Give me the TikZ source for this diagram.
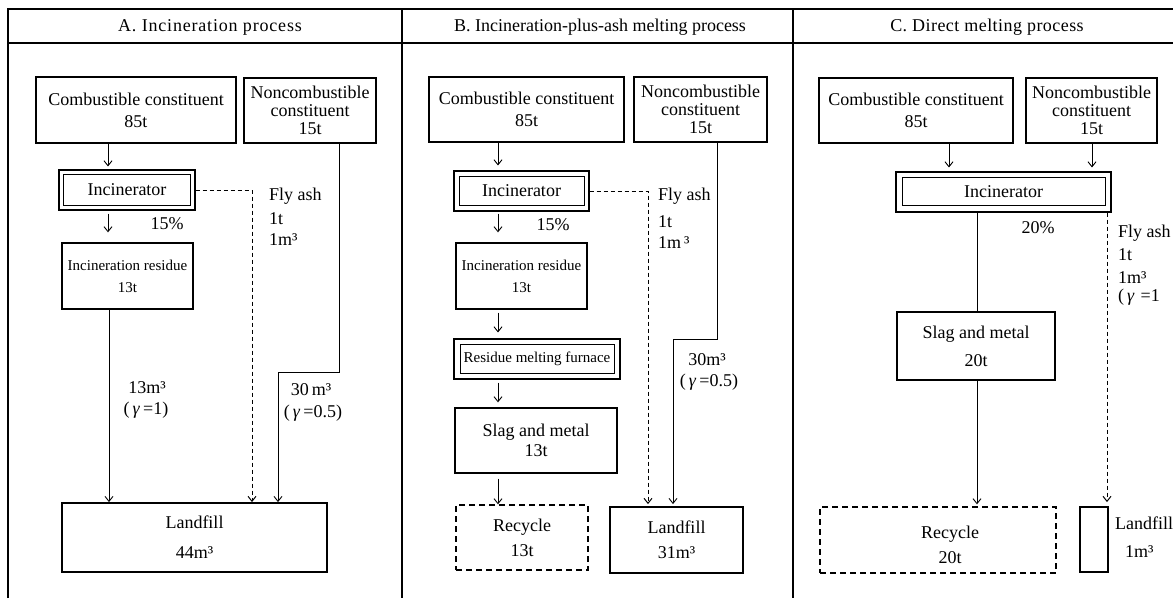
\documentclass[tikz,border=0pt]{standalone}
\usepackage{fontspec}
\setmainfont{Liberation Serif}
\usetikzlibrary{arrows.meta}
\newcommand\fA{\fontsize{18}{18}\selectfont}
\newcommand\fS{\fontsize{15}{16}\selectfont}
\tikzset{
  frame/.style={line width=1.5pt},
  box/.style={draw, line width=1.3pt, inner sep=0pt, align=center, font=\fA},
  dbox/.style={box, line width=1.1pt},
  inner/.style={line width=1pt},
  rbox/.style={box, dash pattern=on 6pt off 4pt},
  lbox/.style={box, line width=1.8pt},
  flow/.style={line width=0.9pt},
  arr/.style={flow, -{Straight Barb[length=5pt,width=8pt]}},
  dline/.style={flow, line width=1pt, dash pattern=on 4pt off 3pt},
  txt/.style={font=\fA, inner sep=0pt, align=center},
  ltxt/.style={txt, anchor=west, align=left},
}
\begin{document}
\begin{tikzpicture}[x=1pt,y=-1pt]
\useasboundingbox (0,0) rectangle (1173,598);
% frame
\draw[frame] (8,598) -- (8,9) -- (1173,9);
\draw[frame] (8,43) -- (1173,43);
\draw[frame] (402,9) -- (402,598);
\draw[frame] (793,9) -- (793,598);
\node[txt, font=\fA\addfontfeatures{LetterSpace=4.5}] (hA) at (210,27) {A. Incineration process};
\node[txt] (hB) at (600,27) {B. Incineration-plus-ash melting process};
\node[txt, font=\fA\addfontfeatures{LetterSpace=2.5}] (hC) at (987,27) {C. Direct melting process};

% ---------------- Panel A ----------------
\node[box, minimum width=200pt, minimum height=66pt] (aComb) at (136,110) {Combustible constituent\\[4pt]85t};
\node[box, minimum width=132pt, minimum height=65pt] (aNon) at (310,110.5) {Noncombustible\\constituent\\15t};
\node[dbox, minimum width=136pt, minimum height=40pt] (aInc) at (127,190) {Incinerator};
\draw[inner] ([shift={(5,5.5)}]aInc.north west) rectangle ([shift={(-5,-5)}]aInc.south east);
\node[box, font=\fS, minimum width=131pt, minimum height=66pt] (aRes) at (127.5,276) {Incineration residue\\[6pt]13t};
\node[lbox, minimum width=265pt, minimum height=69pt] (aLand) at (194.5,537.5) {Landfill\\[12pt]44m³};
\coordinate (aX) at (108,0);
\coordinate (aRX) at (109,0);
\coordinate (aFX) at (252,0);
\coordinate (aNX) at (339,0);
\coordinate (aBend) at (278,372);
\draw[arr, shorten >=3pt] (aComb.south -| aX) -- (aInc.north -| aX);
\draw[arr, shorten <=3pt, shorten >=10pt] (aInc.south -| aX) -- (aRes.north -| aX);
\draw[arr] (aRes.south -| aRX) -- (aLand.north -| aRX);
\draw[dline, -{Straight Barb[length=5pt,width=8pt]}] (aInc.east) -- (aInc.east -| aFX) -- (aLand.north -| aFX);
\draw[arr] (aNon.south -| aNX) -- (aNX |- aBend) -- (aBend) -- (aLand.north -| aBend);
\node[txt] (aP) at (167,224) {15\%};
\node[txt] (aV1) at (147,388) {13m³};
\node[txt] (aG1) at (146,410) {(\,\textit{γ}\,=1)};
\node[txt] (aV2) at (311,390) {30\,m³};
\node[txt] (aG2) at (313,413) {(\,\textit{γ}\,=0.5)};
\node[ltxt] (aF1) at (269,196) {Fly ash};
\node[ltxt] (aF2) at (269,219) {1t};
\node[ltxt] (aF3) at (269,240) {1m³};

% ---------------- Panel B ----------------
\node[box, minimum width=195pt, minimum height=65pt] (bComb) at (526.5,109.5) {Combustible constituent\\[4pt]85t};
\node[box, minimum width=133pt, minimum height=65pt] (bNon) at (700.5,109.5) {Noncombustible\\constituent\\15t};
\node[dbox, minimum width=135pt, minimum height=40pt] (bInc) at (521.5,191) {Incinerator};
\draw[inner] ([shift={(6,6)}]bInc.north west) rectangle ([shift={(-5,-6)}]bInc.south east);
\node[box, font=\fS, minimum width=131pt, minimum height=66pt] (bRes) at (521.5,276) {Incineration residue\\[6pt]13t};
\node[dbox, font=\fS, minimum width=166pt, minimum height=40pt] (bFur) at (537,359) {Residue melting furnace};
\draw[inner] ([shift={(7,6)}]bFur.north west) rectangle ([shift={(-6,-6)}]bFur.south east);
\node[box, minimum width=162pt, minimum height=65pt] (bSlag) at (536,440.5) {Slag and metal\\[2pt]13t};
\node[rbox, minimum width=132pt, minimum height=65pt] (bRec) at (522,537.5) {Recycle\\[7pt]13t};
\node[lbox, minimum width=133pt, minimum height=66pt] (bLand) at (676.5,540) {Landfill\\[7pt]31m³};
\coordinate (bX) at (498,0);
\coordinate (bFX) at (648,0);
\coordinate (bNX) at (717,0);
\coordinate (bBend) at (673,339);
\draw[arr, shorten >=5pt] (bComb.south -| bX) -- (bInc.north -| bX);
\draw[arr, shorten <=2pt, shorten >=10pt] (bInc.south -| bX) -- (bRes.north -| bX);
\draw[arr, shorten <=3pt, shorten >=6pt] (bRes.south -| bX) -- (bFur.north -| bX);
\draw[arr, shorten <=3pt, shorten >=5pt] (bFur.south -| bX) -- (bSlag.north -| bX);
\draw[arr, shorten <=5pt] (bSlag.south -| bX) -- (bRec.north -| bX);
\draw[dline, -{Straight Barb[length=5pt,width=8pt]}, shorten >=2pt] (bInc.east) -- (bInc.east -| bFX) -- (bLand.north -| bFX);
\draw[arr, shorten >=2pt] (bNon.south -| bNX) -- (bNX |- bBend) -- (bBend) -- (bLand.north -| bBend);
\node[txt] (bP) at (553,225) {15\%};
\node[txt] (bV2) at (707,360) {30m³};
\node[txt] (bG2) at (709,382) {(\,\textit{γ}\,=0.5)};
\node[ltxt] (bF1) at (658,196) {Fly ash};
\node[ltxt] (bF2) at (658,222) {1t};
\node[ltxt] (bF3) at (658,243) {1m\,³};

% ---------------- Panel C ----------------
\node[box, minimum width=194pt, minimum height=65pt] (cComb) at (916,110.5) {Combustible constituent\\[4pt]85t};
\node[box, minimum width=131pt, minimum height=65pt] (cNon) at (1091.5,110.5) {Noncombustible\\constituent\\15t};
\node[dbox, minimum width=215pt, minimum height=40pt] (cInc) at (1003.5,192) {Incinerator};
\draw[inner] ([shift={(7,6)}]cInc.north west) rectangle ([shift={(-6,-7)}]cInc.south east);
\node[box, minimum width=158pt, minimum height=68pt] (cSlag) at (976,346) {Slag and metal\\[10pt]20t};
\node[rbox, minimum width=236pt, minimum height=66pt] (cRec) at (938,540) {};
\node[txt] (cRecT) at (950,544.5) {Recycle\\[7pt]20t};
\node[lbox, minimum width=28pt, minimum height=65pt] (cLand) at (1094,539.5) {};
\coordinate (cX1) at (949,0);
\coordinate (cX2) at (1092,0);
\coordinate (cSX) at (977,0);
\coordinate (cFX) at (1107,0);
\draw[arr, shorten >=4pt] (cComb.south -| cX1) -- (cInc.north -| cX1);
\draw[arr, shorten >=4pt] (cNon.south -| cX2) -- (cInc.north -| cX2);
\draw[flow] (cInc.south -| cSX) -- (cSlag.north -| cSX);
\draw[arr, shorten >=2pt] (cSlag.south -| cSX) -- (cRec.north -| cSX);
\draw[dline, -{Straight Barb[length=5pt,width=8pt]}, shorten >=4pt] (cInc.south -| cFX) -- (cLand.north -| cFX);
\node[txt] (cP) at (1038,228) {20\%};
\node[ltxt] (cF1) at (1118,233) {Fly ash};
\node[ltxt] (cF2) at (1118,255) {1t};
\node[ltxt] (cF3) at (1118,278) {1m³};
\node[ltxt] (cF4) at (1118,297) {(\,\textit{γ}\,\,=1};
\node[ltxt] (cL1) at (1115,523) {Landfill};
\node[ltxt] (cL2) at (1125,552) {1m³};
\end{tikzpicture}
\end{document}
